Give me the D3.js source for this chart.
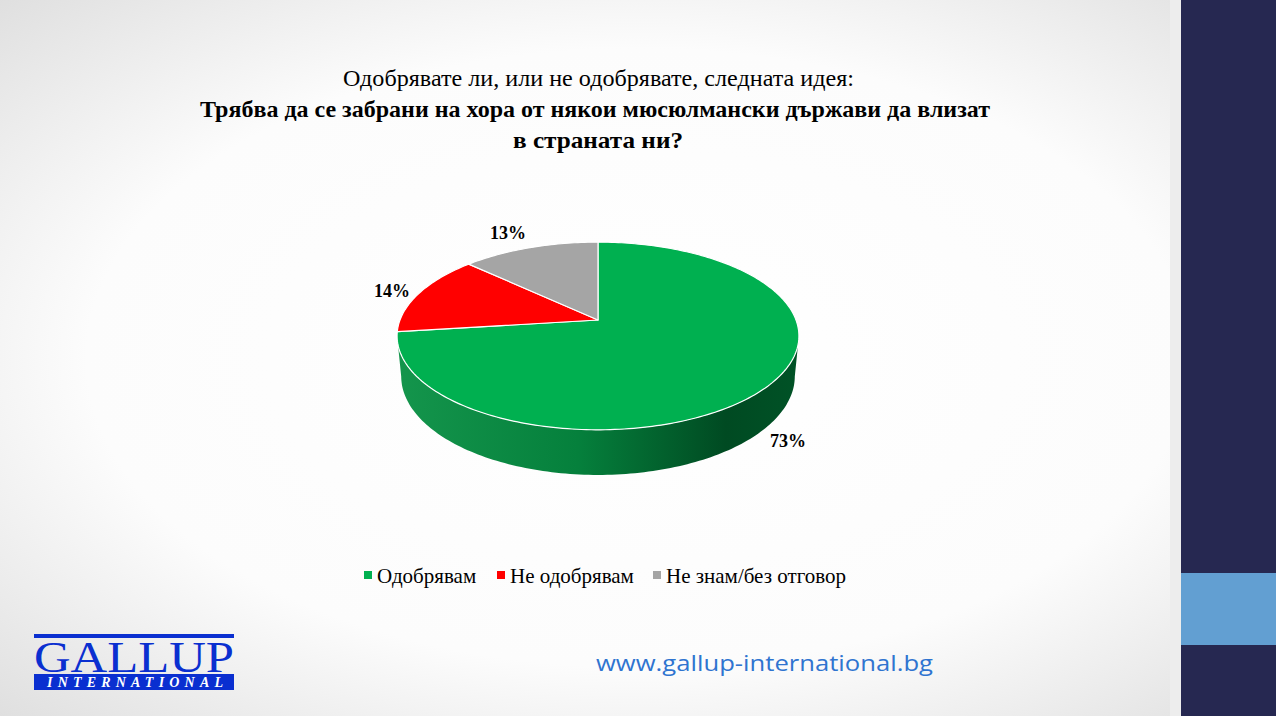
<!DOCTYPE html>
<html><head><meta charset="utf-8">
<script src="https://cdn.jsdelivr.net/npm/d3@7"></script>
<style>html,body{margin:0;padding:0;overflow:hidden;background:#fff}</style>
</head><body>
<svg id="c" width="1276" height="716"></svg>
<script>
const categories = ["Одобрявам", "Не одобрявам", "Не знам/без отговор"];
const values = [73, 14, 13];
const labels = ["73%", "14%", "13%"];
const colors = ["#00B050", "#FF0000", "#A5A5A5"];
const titleLines = ["Одобрявате ли, или не одобрявате, следната идея:",
  "Трябва да се забрани на хора от някои мюсюлмански държави да влизат",
  "в страната ни?"];

const svg = d3.select("#c");
const defs = svg.append("defs");
const bg = defs.append("radialGradient").attr("id","bg").attr("cx","50%").attr("cy","50%").attr("r","72%");
bg.append("stop").attr("offset","0%").attr("stop-color","#ffffff");
bg.append("stop").attr("offset","60%").attr("stop-color","#fcfcfc");
bg.append("stop").attr("offset","100%").attr("stop-color","#dedede");
svg.append("rect").attr("width",1276).attr("height",716).attr("fill","url(#bg)");

// right panel
svg.append("rect").attr("x",1170).attr("y",0).attr("width",11).attr("height",716).attr("fill","#ededed");
svg.append("rect").attr("x",1181).attr("y",0).attr("width",95).attr("height",716).attr("fill","#262851");
svg.append("rect").attr("x",1181).attr("y",573).attr("width",95).attr("height",72).attr("fill","#629FD2");

// title
const tl = [
  {t:titleLines[0], y:86, w:511, x0:343, bold:false},
  {t:titleLines[1], y:117, w:790, x0:200, bold:true},
  {t:titleLines[2], y:148, w:170, x0:513, bold:true}
];
tl.forEach(d=>{
  svg.append("text").attr("x",d.x0).attr("y",d.y)
    .attr("font-family","'Liberation Serif', serif").attr("font-size",24)
    .attr("font-weight",d.bold?"bold":"normal").attr("fill","#000")
    .attr("textLength",d.w).attr("lengthAdjust","spacingAndGlyphs").text(d.t);
});

// 3D pie with perspective projection
const cx = 598, cy = 320;
const phi = 27.4*Math.PI/180, s = Math.sin(phi), c = Math.cos(phi);
const D = 5.22, k = 198*D, h = 0.231;
function proj(theta, yw){
  const x = Math.sin(theta), z = Math.cos(theta);
  const Yc = z*s + yw*c, Zc = z*c - yw*s;
  return [cx + k*x/(D+Zc), cy - k*Yc/(D+Zc)];
}
const pie = d3.pie().sort(null).startAngle(0).endAngle(2*Math.PI);
const arcs = pie(values);
function ring(a0, a1, yw){
  const n = Math.max(2, Math.ceil(Math.abs(a1-a0)/0.02));
  return d3.range(n+1).map(i => proj(a0 + (a1-a0)*i/n, yw));
}
const sideGrad = [
  ["#14954c","#05803c","#004a22","#005226"],
  ["#d40000","#b00000","#800000","#990000"],
  ["#8a8a8a","#777777","#555555","#666666"]
];
sideGrad.forEach((g,i)=>{
  const lg = defs.append("linearGradient").attr("id","sg"+i).attr("gradientUnits","userSpaceOnUse")
    .attr("x1",cx-200).attr("x2",cx+200).attr("y1",0).attr("y2",0);
  lg.append("stop").attr("offset","0%").attr("stop-color",g[0]);
  lg.append("stop").attr("offset","45%").attr("stop-color",g[1]);
  lg.append("stop").attr("offset","82%").attr("stop-color",g[2]);
  lg.append("stop").attr("offset","100%").attr("stop-color",g[3]);
});
const line = d3.line();
const silR = Math.acos(-c/D), silL = 2*Math.PI - silR;
const gSide = svg.append("g");
arcs.forEach((d,i)=>{
  const a = Math.max(d.startAngle, silR), e = Math.min(d.endAngle, silL);
  if (e > a){
    const top = ring(a,e,0), bot = ring(e,a,-h);
    gSide.append("path").attr("d", line(top.concat(bot))+"Z").attr("fill","url(#sg"+i+")");
  }
});
const gTop = svg.append("g");
arcs.forEach((d,i)=>{
  const pts = [[cx,cy]].concat(ring(d.startAngle,d.endAngle,0));
  gTop.append("path").attr("d", line(pts)+"Z").attr("fill",colors[i])
    .attr("stroke","#ffffff").attr("stroke-width",1.2).attr("stroke-linejoin","round");
});

// data labels
const labPos = [[788,447],[392,297],[508,239]];
arcs.forEach((d,i)=>{
  svg.append("text").attr("x",labPos[i][0]).attr("y",labPos[i][1]).attr("text-anchor","middle")
    .attr("font-family","'Liberation Serif', serif").attr("font-size",18).attr("font-weight","bold")
    .attr("fill","#000").text(labels[i]);
});

// legend
const legX = [364, 497, 653];
categories.forEach((c2,i)=>{
  svg.append("rect").attr("x",legX[i]).attr("y",571).attr("width",8).attr("height",8).attr("fill",colors[i]);
  svg.append("text").attr("x",legX[i]+13).attr("y",583)
    .attr("font-family","'Liberation Serif', serif").attr("font-size",21).attr("fill","#000").text(c2);
});

// logo
svg.append("rect").attr("x",34).attr("y",634).attr("width",200).attr("height",4).attr("fill","#0a2fd0");
svg.append("text").attr("x",34).attr("y",672).attr("font-family","'Liberation Serif', serif")
  .attr("font-size",44).attr("fill","#0a2fd0").attr("textLength",200).attr("lengthAdjust","spacingAndGlyphs").text("GALLUP");
svg.append("rect").attr("x",34).attr("y",674).attr("width",200).attr("height",16).attr("fill","#0a2fd0");
svg.append("text").attr("x",47).attr("y",687).attr("font-family","'Liberation Serif', serif")
  .attr("font-size",14).attr("font-weight","bold").attr("font-style","italic").attr("fill","#fff")
  .attr("textLength",176).attr("lengthAdjust","spacing").text("INTERNATIONAL");

// url
svg.append("text").attr("x",596).attr("y",671).attr("font-family","'Open Sans', sans-serif")
  .attr("font-size",22).attr("fill","#2f74d0").attr("textLength",337).attr("lengthAdjust","spacingAndGlyphs")
  .text("www.gallup-international.bg");
</script>
</body></html>
